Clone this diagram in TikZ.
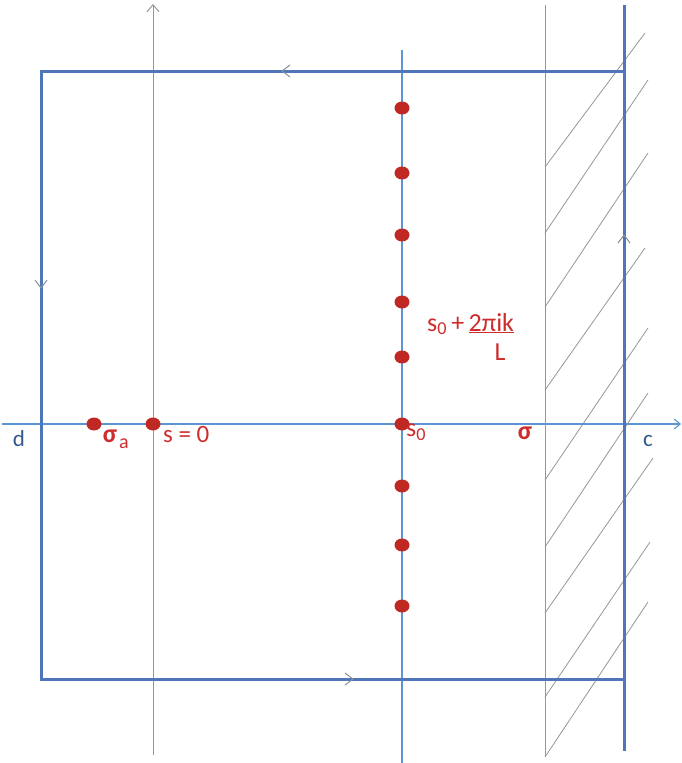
\documentclass[tikz,border=0pt]{standalone}
\usepackage{fontspec}
\setmainfont{Carlito}
\usetikzlibrary{arrows.meta,shapes.geometric}
\definecolor{contour}{RGB}{79,118,184}
\definecolor{axisblue}{RGB}{91,150,210}
\definecolor{axisgray}{RGB}{150,150,150}
\definecolor{dotred}{RGB}{192,40,36}
\definecolor{txtred}{RGB}{205,45,45}
\definecolor{txtblue}{RGB}{50,90,140}
\tikzset{
  contourline/.style={draw=contour, line width=3pt},
  axisline/.style={draw=axisblue, line width=1.1pt},
  grayline/.style={draw=axisgray, line width=1pt},
  hatchline/.style={draw=axisgray, line width=0.8pt},
  pole/.style={ellipse, fill=dotred, minimum width=15pt, minimum height=13pt, inner sep=0pt},
  redlabel/.style={text=txtred, inner sep=0pt},
  bluelabel/.style={text=txtblue, inner sep=0pt, font=\fontsize{23}{26}\selectfont},
  chev/.style={draw=axisgray!80!contour, line width=1pt, line join=round},
}
\begin{document}
\begin{tikzpicture}[x=1pt,y=-1pt]
\useasboundingbox (0,0) rectangle (682,763);
% hatching
\foreach \ya/\xb/\yb in {167/645/33, 233/648/80, 307/648/153, 390/645/248, 480/648/328, 547/648/393, 613/653/458, 697/650/542, 757/648/602}
  \draw[hatchline] (545,\ya) -- (\xb,\yb);
% axes
\coordinate (xl) at (2,424);
\coordinate (xr) at (681,424);
\draw[axisline, -{Straight Barb[length=6pt,width=10pt]}] (xl) -- (xr);
\coordinate (yb) at (153,755);
\coordinate (yt) at (153,4);
\draw[grayline, -{Straight Barb[length=7pt,width=12pt]}] (yb) -- (yt);
\coordinate (gb) at (545,757);
\coordinate (gt) at (545,5);
\draw[grayline] (gb) -- (gt);
\coordinate (bt) at (402,50);
\coordinate (bb) at (402,763);
\draw[axisline] (bt) -- (bb);
% contour
\coordinate (tl) at (41,71);
\coordinate (tr) at (624,71);
\coordinate (bl) at (41,679);
\coordinate (br) at (624,679);
\coordinate (rtop) at (624,5);
\coordinate (rbot) at (624,751);
\draw[contourline] (tr) -- (tl) -- (bl) -- (br);
\draw[contourline] (rbot) -- (rtop);
% direction marks
\draw[chev] (290,65) -- (282,71) -- (290,77);
\draw[chev] (345,673) -- (353,679) -- (345,685);
\draw[chev] (35,280) -- (41,288) -- (47,280);
\draw[chev] (618,243) -- (624,235) -- (630,243);
% poles
\foreach \n/\y in {1/108, 2/173, 3/235, 4/302, 5/357, 6/424, 7/486, 8/545, 9/606}
  \node[pole] (p\n) at (402,\y) {};
\node[pole] (pa) at (94,424) {};
\node[pole] (pz) at (153,424) {};
% labels
\node[redlabel, anchor=west, font=\fontsize{26}{28}\selectfont] (lab1) at (427,324) {s\textsubscript{0}\,+\,\underline{2πik}};
\node[redlabel, font=\fontsize{26}{28}\selectfont] (labL) at (500,352) {L};
\node[redlabel, font=\bfseries\fontsize{26}{28}\selectfont] (sig) at (110,436) {σ};
\node[redlabel, font=\fontsize{20}{22}\selectfont] (siga) at (124,444) {a};
\node[redlabel, anchor=west, font=\fontsize{25}{28}\selectfont] (s0lab) at (163,434) {s = 0};
\node[redlabel, anchor=west, font=\fontsize{26}{28}\selectfont] (sz) at (406,432) {s\textsubscript{0}};
\node[redlabel, font=\bfseries\fontsize{26}{28}\selectfont] (sigma) at (525,433) {σ};
\node[bluelabel] (c) at (648,441) {c};
\node[bluelabel] (d) at (19,439) {d};
\end{tikzpicture}
\end{document}
